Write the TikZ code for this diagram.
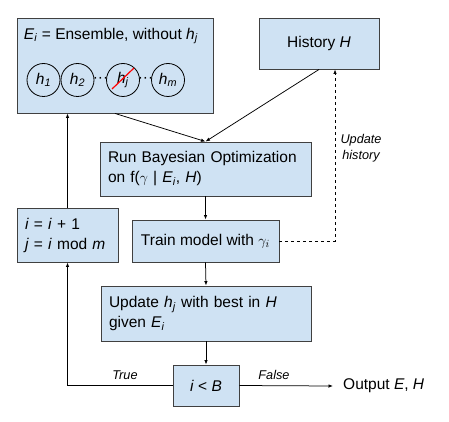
\documentclass[tikz,border=0pt]{standalone}
\usepackage{fontspec}
\setmainfont{Liberation Sans}
\usetikzlibrary{arrows.meta}
\definecolor{boxblue}{HTML}{CFE2F3}
\definecolor{boxline}{HTML}{404040}
\newcommand{\ivar}[2]{\textit{#1}\textsubscript{\textit{#2}}}
\tikzset{
    txt/.style={font=\fontsize{15.5}{20}\selectfont},
    box/.style={txt, draw=boxline, fill=boxblue, line width=0.9pt, inner sep=0pt},
    hnode/.style={txt, draw=black, circle, minimum size=33pt, inner sep=0pt, line width=0.8pt},
    lab/.style={font=\fontsize{12.7}{16}\selectfont\itshape},
    flow/.style={-{Latex[length=4.5pt,width=3.5pt]}, line width=0.75pt}
}
\begin{document}
\begin{tikzpicture}[x=1pt, y=-1pt]
    \useasboundingbox (0,0) rectangle (449,422);

    % ensemble
    \node[box, minimum width=196pt, minimum height=95pt] (ens) at (115,65.5) {};
    \node[txt] (enstitle) at (111,36) {\ivar{E}{i} = Ensemble, without \ivar{h}{j}};
    \node[hnode] (h1) at (43.5,80) {\ivar{h}{1}};
    \node[hnode] (h2) at (77.5,80) {\ivar{h}{2}};
    \node[txt, inner sep=0pt] (dots1) at (100.5,80) {···};
    \node[hnode] (hj) at (123,80) {\ivar{h}{j}};
    \node[txt, inner sep=0pt] (dots2) at (145.5,80) {···};
    \node[hnode] (hm) at (168,80) {\ivar{h}{m}};
    \draw[red, line width=1.2pt] ([shift={(-11,9)}]hj.center) -- ([shift={(11,-12)}]hj.center); % removed member

    % history
    \node[box, minimum width=120pt, minimum height=51pt] (hist) at (319,43.5) {History \textit{H}};

    % loop body
    \node[box, minimum width=211pt, minimum height=54pt, text width=195pt, align=left] (bo) at (205.5,169)
        {Run Bayesian Optimization\\on f($\gamma$ | \ivar{E}{i}, \textit{H})};
    \node[box, minimum width=147pt, minimum height=42pt] (train) at (205.5,241) {Train model with $\gamma_i$};
    \node[box, minimum width=101pt, minimum height=54pt, text width=85pt, align=left] (inc) at (67.5,235)
        {\textit{i} = \textit{i} + 1\\\textit{j} = \textit{i} mod \textit{m}};
    \node[box, minimum width=210pt, minimum height=55pt, text width=194pt, align=left] (upd) at (206,313.5)
        {Update \ivar{h}{j} with best in \textit{H}\\given \ivar{E}{i}};
    \node[box, minimum width=66pt, minimum height=41pt] (cond) at (206,385.5) {\textit{i} < \textit{B}};
    \node[txt, anchor=west, inner sep=0pt] (out) at (343,386) {Output \textit{E}, \textit{H}};

    \draw[flow] (ens.south) -- (bo.north);
    \draw[flow] (hist.south) -- (bo.north);
    \draw[flow] (bo.south) -- (train.north);
    \draw[flow] (train.south) -- (upd.north);
    \draw[flow] (upd.south) -- (cond.north);

    % update history (dashed)
    \coordinate (turn) at (335,241);
    \draw[flow, dashed] (train.east) -- (turn) -- (turn |- hist.south);
    \node[lab, align=center] (updlab) at (361,148) {Update\\history};

    % true / false
    \draw[flow] (cond.west) -| (inc.south);
    \draw[flow] (inc.north) -- (inc.north |- ens.south);
    \draw[flow] (cond.east) -- ([xshift=-10pt]out.west);
    \node[lab] (truelab) at (125,375) {True};
    \node[lab] (falselab) at (274,375) {False};

\end{tikzpicture}
\end{document}
